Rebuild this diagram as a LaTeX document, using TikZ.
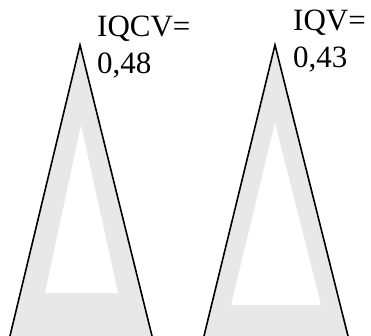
\documentclass[tikz,border=0pt]{standalone}
\usepackage{fontspec}
\setmainfont{Liberation Serif}
\usepackage{tikz}
\usetikzlibrary{positioning}
\definecolor{shadeGray}{RGB}{232,232,232}

\begin{document}
\begin{tikzpicture}[x=1pt,y=-1pt,
  cone/.style={draw,fill=shadeGray,line width=1.6pt,line join=miter},
  hole/.style={fill=white},
  lbl/.style={align=left,inner sep=0pt,anchor=base west,font=\fontsize{31}{37}\selectfont}
]
  \useasboundingbox (0,0) rectangle (371,336);
  % left cone
  \path[cone] (9,340) -- (80,45) -- (153,340);
  \fill[hole] (45,293) -- (81,125) -- (118,293) -- cycle;
  \node[lbl] (iqcv) at (97,74) {IQCV=\\0,48};
  % right cone
  \path[cone] (203,340) -- (275,45) -- (349,340);
  \fill[hole] (231,305) -- (275,123) -- (321,305) -- cycle;
  \node[lbl] (iqv) at (293,68) {IQV=\\0,43};
\end{tikzpicture}
\end{document}
